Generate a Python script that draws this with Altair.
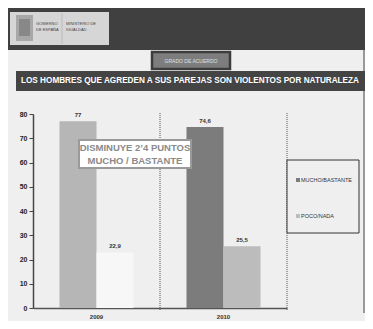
import altair as alt
import pandas as pd

# ---- data ----
years = ["2009", "2010"]
series = ["MUCHO/BASTANTE", "POCO/NADA"]
mucho = [77.0, 74.6]
poco = [22.9, 25.5]
y_ticks = [0, 10, 20, 30, 40, 50, 60, 70, 80]
title_text = "LOS HOMBRES QUE AGREDEN A SUS PAREJAS SON VIOLENTOS POR NATURALEZA"
subtitle_text = "GRADO DE ACUERDO"
note_lines = ["DISMINUYE 2\u20194 PUNTOS", "MUCHO / BASTANTE"]
legend_labels = ["MUCHO/BASTANTE", "POCO/NADA"]
legend_colors = ["#7c7c7c", "#bcbcbc"]
logo_left = ["GOBIERNO", "DE ESPAÑA"]
logo_right = ["MINISTERIO DE", "IGUALDAD"]

rows = []
for i, yr in enumerate(years):
    for s, vals in zip(series, [mucho, poco]):
        v = vals[i]
        rows.append({"year": yr, "serie": s, "key": yr + " " + s, "value": v,
                     "label": ("%g" % v).replace(".", ",")})
df = pd.DataFrame(rows)
keys = list(df["key"])
key_colors = ["#b6b6b6", "#f7f7f7", "#7c7c7c", "#bcbcbc"]

W, H = 254, 194
SANS = "Liberation Sans, Arial, sans-serif"
one = pd.DataFrame({"a": [0]})


def box(x1, x2, y1, y2, fill, stroke=None, sw=0):
    kw = dict(fill=fill)
    if stroke:
        kw.update(stroke=stroke, strokeWidth=sw)
    return alt.Chart(one).mark_rect(**kw).encode(
        x=alt.value(x1), x2=alt.value(x2), y=alt.value(y1), y2=alt.value(y2))


def label(txt, x, y, size, color, weight="normal", font=SANS, align="center"):
    return alt.Chart(one).mark_text(
        text=txt, fontSize=size, color=color, fontWeight=weight, font=font,
        align=align, baseline="middle").encode(x=alt.value(x), y=alt.value(y))


xenc = alt.X("year:N", scale=alt.Scale(domain=years, paddingInner=0, paddingOuter=0),
             axis=alt.Axis(title=None, labelFontSize=6, labelFontWeight="bold",
                           labelColor="#333", labelFont=SANS, ticks=False,
                           domainColor="#555", domainWidth=1.5, labelPadding=5,
                           labelAngle=0))
xoff = alt.XOffset("serie:N", scale=alt.Scale(domain=series, paddingOuter=0.716,
                                              paddingInner=0))
yenc = alt.Y("value:Q", scale=alt.Scale(domain=[0, 80], nice=False),
             axis=alt.Axis(values=y_ticks, title=None, grid=False, labelFontSize=7,
                           labelFontWeight="bold", labelColor="#222", labelFont=SANS,
                           tickColor="#444", tickSize=4, domainColor="#444",
                           domainWidth=1.5, labelPadding=2, labelOverlap=False))

bars = alt.Chart(df).mark_bar().encode(
    x=xenc, xOffset=xoff, y=yenc,
    color=alt.Color("key:N", scale=alt.Scale(domain=keys, range=key_colors), legend=None))

bar_labels = alt.Chart(df).mark_text(baseline="bottom", dy=-3, fontSize=6,
                                     fontWeight="bold", color="#333", font=SANS).encode(
    x=xenc, xOffset=xoff, y=yenc, text="label:N")

dots = [alt.Chart(one).mark_rule(color="#555", strokeDash=[1, 1], strokeWidth=1).encode(
    x=alt.value(xv), y=alt.value(-1), y2=alt.value(H + 3)) for xv in (127, 254)]

# header
layers = [
    box(-30, 340, -110, -64, "#404040"),
    box(-23, 76, -102, -69, "#d6d6d6"),
    alt.Chart(one).mark_rule(color="#bbb").encode(x=alt.value(29), y=alt.value(-101), y2=alt.value(-70)),
    box(-17, 0, -99, -73, "#a8a8a8"),
    box(-14, -3, -95, -78, "#888888"),
    label(logo_left[0], 3, -90, 4, "#444", align="left"),
    label(logo_left[1], 3, -84, 4, "#444", align="left"),
    label(logo_right[0], 33, -90, 4, "#444", align="left"),
    label(logo_right[1], 33, -84, 4, "#444", align="left"),
    alt.Chart(one).mark_rule(color="#999", strokeWidth=2).encode(
        x=alt.value(331), y=alt.value(-64), y2=alt.value(199)),
    box(119, 197, -62, -45, "#7d7d7d", "#3c3c3c", 2.5),
    label(subtitle_text, 158, -53.5, 5, "#e0e0e0", font=SANS),
    box(-17, 340, -43, -23, "#444444"),
    label(title_text, 157, -33, 8.2, "#ffffff", "bold", SANS),
]

ann = [
    box(46, 158, 26, 54, "#ffffff", "#9a9a9a", 2),
    label(note_lines[0], 102, 34, 9.5, "#8a8a8a", "bold", SANS),
    label(note_lines[1], 102, 47, 9.5, "#8a8a8a", "bold", SANS),
]

legend_layers = [box(254, 326, 46, 119, "#efefef", "#333", 1)]
for i, (lab, col) in enumerate(zip(legend_labels, legend_colors)):
    yy = 66 + 36 * i
    legend_layers.append(box(263, 267, yy - 2, yy + 2, col))
    legend_layers.append(label(lab, 268, yy, 5.5, "#333", align="left"))

chart = alt.layer(*layers, bars, *dots, bar_labels, *ann, *legend_layers).properties(
    width=W, height=H,
    autosize=alt.AutoSizeParams(type="none"),
    padding={"left": 25, "top": 106, "right": 78, "bottom": 13},
    background="#efefef",
).configure_view(stroke=None)

chart.save("out.html", embed_options={"renderer": "svg", "actions": False})
